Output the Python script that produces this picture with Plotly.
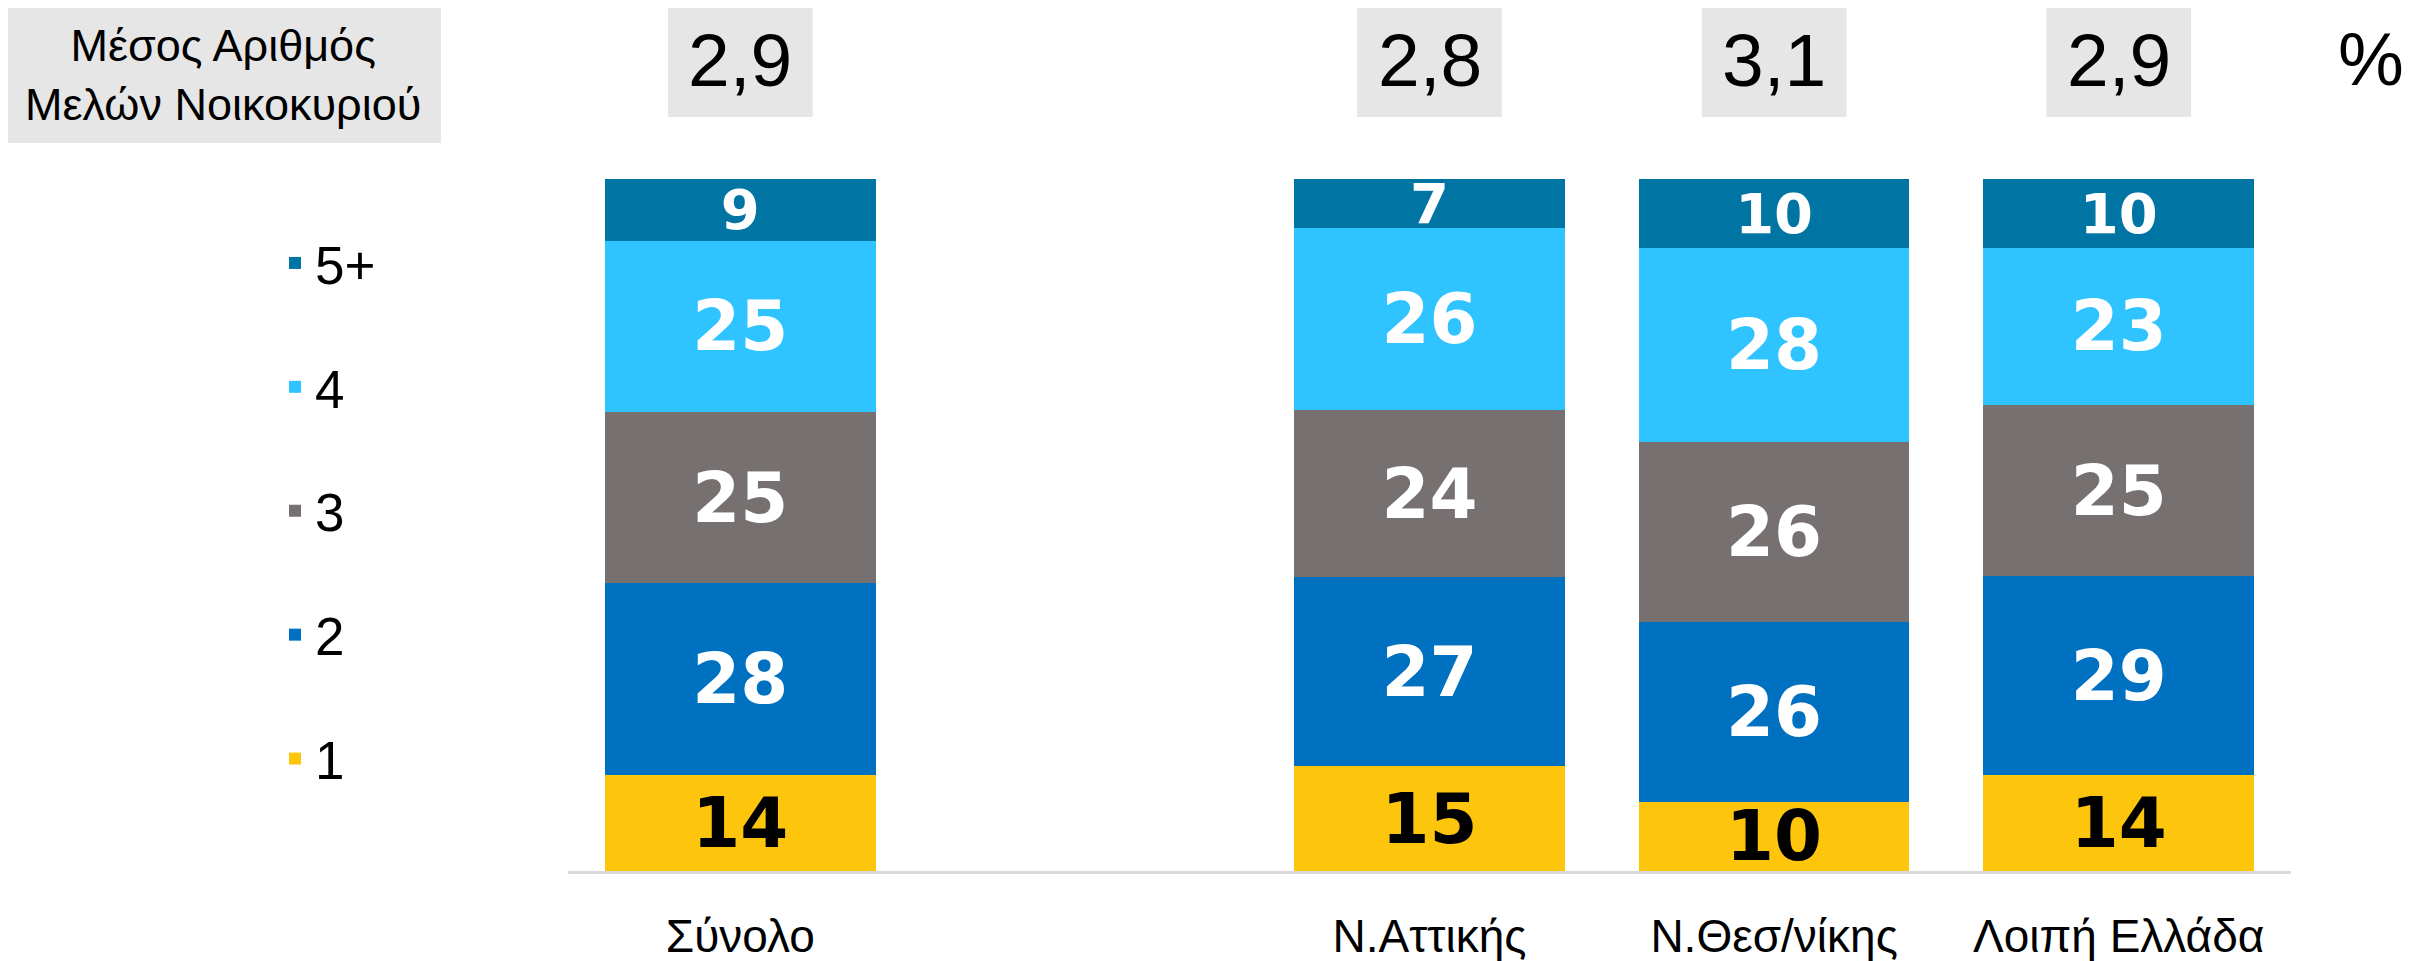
import plotly.graph_objects as go

# ---------------- data ----------------
categories = ["Σύνολο", "Ν.Αττικής", "Ν.Θεσ/νίκης", "Λοιπή Ελλάδα"]
series_names = ["1", "2", "3", "4", "5+"]
members_1 = [14, 15, 10, 14]
members_2 = [28, 27, 26, 29]
members_3 = [25, 24, 26, 25]
members_4 = [25, 26, 28, 23]
members_5plus = [9, 7, 10, 10]
avg_members = [2.9, 2.8, 3.1, 2.9]
header_label = "Μέσος Αριθμός<br>Μελών Νοικοκυριού"
unit_label = "%"

# ---------------- styling ----------------
series_values = [members_1, members_2, members_3, members_4, members_5plus]
colors = ["#FDC50C", "#0070C0", "#767170", "#2FC4FF", "#0074A3"]
text_colors = ["#000000", "#FFFFFF", "#FFFFFF", "#FFFFFF", "#FFFFFF"]
text_sizes = [69, 69, 69, 69, 56]
legend_ranks = [5, 4, 3, 2, 1]
x_slots = [0, 2, 3, 4]          # gap after "Σύνολο"
FONT = "Liberation Sans, Arial, sans-serif"
LABEL_FONT = "DejaVu Sans, Verdana, sans-serif"

fig = go.Figure()
for name, vals, col, tcol, tsz, rk in zip(series_names, series_values, colors, text_colors,
                                          text_sizes, legend_ranks):
    fig.add_trace(go.Bar(
        x=x_slots, y=vals, name=name, legendgroup=name, legendrank=rk,
        marker=dict(color=col, line=dict(width=0)),
        text=[str(v) for v in vals], textposition="inside", insidetextanchor="middle",
        textangle=0, constraintext="none",
        textfont=dict(family=LABEL_FONT, size=tsz, color=tcol, weight="bold"),
        hovertemplate=name + ": %{text}<extra></extra>",
    ))

# figure geometry (page body adds an 8px offset)
OFF = 8
W, H = 2420 - OFF, 961 - OFF
L, T = 568 - OFF, 179 - OFF
R = W - (2291 - OFF)
B = H - (871 - OFF)
PW, PH = W - L - R, H - T - B


def px(x):
    """reference-screen x pixel -> paper coordinate"""
    return (x - OFF - L) / PW


def py(y):
    """reference-screen y pixel -> paper coordinate"""
    return (H - B - (y - OFF)) / PH


shapes = []
annotations = []
for xs, v in zip(x_slots, avg_members):
    shapes.append(dict(type="rect", xref="x", yref="paper", x0=xs - 0.21, x1=xs + 0.21,
                       y0=py(117), y1=py(7), fillcolor="#E6E6E6", line=dict(width=0), layer="below"))
    annotations.append(dict(xref="x", yref="paper", x=xs, y=py(60), text=f"{v:.1f}".replace(".", ","),
                            showarrow=False, xanchor="center", yanchor="middle",
                            font=dict(family=FONT, size=75, color="#000000")))

shapes.append(dict(type="rect", xref="paper", yref="paper", x0=px(5), x1=px(441),
                   y0=py(143), y1=py(7), fillcolor="#E6E6E6", line=dict(width=0), layer="below"))
annotations.append(dict(xref="paper", yref="paper", x=px(223), y=py(75), text=header_label,
                        showarrow=False, xanchor="center", yanchor="middle", align="center",
                        font=dict(family=FONT, size=45, color="#000000")))
annotations.append(dict(xref="paper", yref="paper", x=px(2371), y=py(60), text=unit_label,
                        showarrow=False, xanchor="center", yanchor="middle",
                        font=dict(family=FONT, size=74, color="#000000")))

fig.update_layout(
    width=W, height=H,
    margin=dict(l=L, r=R, t=T, b=B, pad=0, autoexpand=False),
    barmode="stack", barnorm="percent", bargap=0.215,
    plot_bgcolor="white", paper_bgcolor="white",
    font=dict(family=FONT, color="#000000"),
    xaxis=dict(range=[-0.5, 4.5], tickmode="array", tickvals=x_slots, ticktext=categories,
               showgrid=False, zeroline=False, showline=True, linecolor="#D9D9D9", linewidth=3,
               ticks="", ticklabelstandoff=23, automargin=False,
               tickfont=dict(family=FONT, size=46, color="#000000")),
    yaxis=dict(range=[0, 100.001], visible=False, showgrid=False, zeroline=False, automargin=False),
    legend=dict(traceorder="grouped", tracegroupgap=52, x=px(275), y=py(222),
                xanchor="left", yanchor="top", bgcolor="rgba(0,0,0,0)",
                font=dict(family=FONT, size=53, color="#000000")),
    shapes=shapes, annotations=annotations,
    showlegend=True,
)

fig.write_html("out.html", config={"displayModeBar": False})
